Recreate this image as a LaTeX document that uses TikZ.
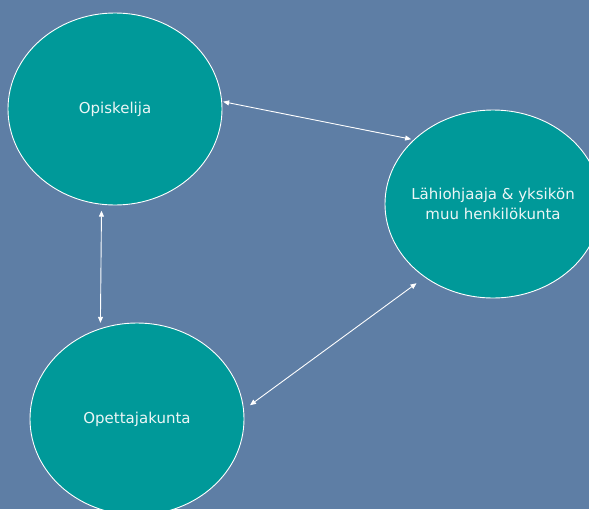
\documentclass[tikz,border=0pt]{standalone}
\usepackage{fontspec}
\setmainfont{DejaVu Sans}
\usetikzlibrary{shapes.geometric,arrows.meta}
\definecolor{bgblue}{RGB}{94,126,165}
\definecolor{tealfill}{RGB}{0,153,153}
\definecolor{txt}{RGB}{236,246,246}
\tikzset{
  bubble/.style={ellipse, draw=white, line width=0.9pt, fill=tealfill, inner sep=0pt,
    text=txt, font=\fontsize{15}{20}\selectfont, align=center},
  link/.style={draw=white, line width=0.9pt,
    {Triangle[length=6pt,width=5pt]}-{Triangle[length=6pt,width=5pt]}}
}
\begin{document}
\begin{tikzpicture}[x=1pt,y=-1pt]
\useasboundingbox (0,0) rectangle (589,509);
\clip (0,0) rectangle (589,509);
\fill[bgblue] (0,0) rectangle (589,509);
\node[bubble, minimum width=214pt, minimum height=192pt] (op) at (115,109) {Opiskelija};
\node[bubble, minimum width=216pt, minimum height=188pt,
  label={[text=txt, font=\fontsize{15}{20}\selectfont, align=center]center:Lähiohjaaja \& yksikön\\muu henkilökunta}] (la) at (493,204) {};
\node[bubble, minimum width=214pt, minimum height=192pt] (ot) at (137,419) {Opettajakunta};
\draw[link, shorten <=1pt, shorten >=2.5pt] (op.4) -- (la.141);
\draw[link, shorten <=6pt, shorten >=5.5pt] (op.262) -- (ot.112);
\draw[link, shorten <=10pt, shorten >=7.5pt] (la.227) -- (ot.5.5);
\end{tikzpicture}
\end{document}
